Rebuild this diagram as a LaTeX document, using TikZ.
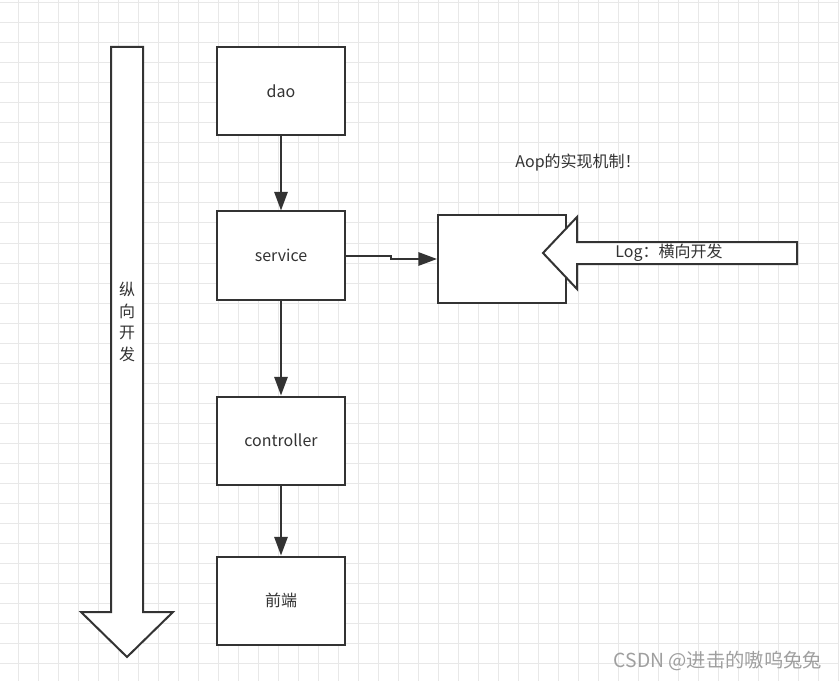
\documentclass[tikz,border=0pt]{standalone}
\usepackage{fontspec}
\setmainfont{Noto Sans CJK SC}
\usepackage{xcolor}
\usepackage{tikz}
\usetikzlibrary{positioning}
\usetikzlibrary{arrows.meta}

\definecolor{inkgray}{HTML}{333333}
\definecolor{gridgray}{HTML}{E8E8E8}

\begin{document}
\begin{tikzpicture}[x=0.75pt,y=-0.75pt,line width=1.5pt,
    >={Triangle[length=14pt,width=10pt]}]
      \tikzstyle{layer}=[draw=inkgray,fill=white,minimum width=96pt,minimum height=66pt,
        inner sep=0pt,text=inkgray,font=\fontsize{12}{14}\selectfont]
      \tikzstyle{bigarrow}=[draw=inkgray,fill=white,line join=miter]
      \tikzstyle{label}=[text=inkgray,font=\fontsize{12}{16.3}\selectfont,inner sep=0pt]

      \useasboundingbox (0,0) rectangle (839,681);
      \fill[white] (0,0) rectangle (839,681);
      % grid
      \foreach \gx in {18,38,...,838}
        \draw[gridgray,line width=0.75pt] (\gx,0) -- (\gx,681);
      \foreach \gy in {3,23,...,680}
        \draw[gridgray,line width=0.75pt] (0,\gy) -- (839,\gy);

      % vertical development arrow
      \draw[bigarrow] (111,47) -- (143,47) -- (143,612) -- (173,612) -- (127,657)
                      -- (81,612) -- (111,612) -- cycle;
      \node[label,align=center] (vdev) at (127,322) {纵\\向\\开\\发};

      % layers
      \node[layer] (dao)                        at (281,91.5) {dao};
      \node[layer] (service)    [below=55.5pt of dao]        {service};
      \node[layer] (controller) [below=71.25pt of service]   {controller};
      \node[layer] (front)      [below=52.5pt of controller] {前端};

      \draw[->,inkgray] (dao)        -- (service);
      \draw[->,inkgray] (service)    -- (controller);
      \draw[->,inkgray] (controller) -- (front);

      % aop
      \node[layer] (aopbox) at (502,259) {};
      \draw[->,inkgray] (service.east) -- ++(45,0) |- (aopbox.west);

      \draw[bigarrow] (543,253) -- (577,217) -- (577,242) -- (797,242) -- (797,264)
                      -- (577,264) -- (577,289) -- cycle;
      \node[label] (hdev) at (669,253) {Log：横向开发};

      \node[label] (aop) at (578,163) {Aop的实现机制！};

      \node[label,text=gray!75,font=\fontsize{14.5}{16}\selectfont] (mark) at (718,661)
        {CSDN @进击的嗷呜兔兔};
    \end{tikzpicture}
\end{document}
